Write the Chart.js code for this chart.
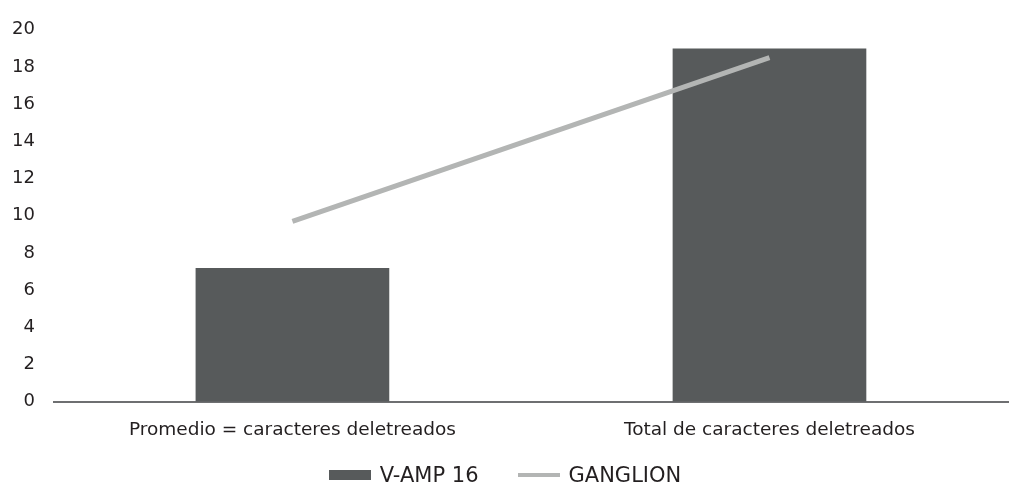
<!DOCTYPE html>
<html>
<head>
<meta charset="utf-8">
<script src="https://cdn.jsdelivr.net/npm/chart.js@4/dist/chart.umd.min.js"></script>
<style>
  html, body { margin: 0; padding: 0; background: #ffffff; }
  #wrap { width: 1010px; height: 488px; position: relative; }
  #legend {
    position: absolute; left: 0; right: 0; top: 463px; height: 24px;
    display: flex; justify-content: center; align-items: center; gap: 39px;
    font: 21px "DejaVu Sans", sans-serif; color: #231f20;
  }
  #legend .item { display: flex; align-items: center; }
  #legend .swatch { width: 42px; margin-right: 9px; }
</style>
</head>
<body>
<div id="wrap"><canvas id="chart"></canvas><div id="legend"></div></div>
<script>
// Data
const categories = ['Promedio = caracteres deletreados', 'Total de caracteres deletreados'];
const vampValues = [7.2, 19];
const ganglionValues = [9.7, 18.5];
const seriesNames = ['V-AMP 16', 'GANGLION'];

const barColor = '#575a5b';
const lineColor = '#b3b5b4';
const textColor = '#231f20';
const fontFamily = '"DejaVu Sans", sans-serif';

Chart.defaults.font.family = fontFamily;
Chart.defaults.color = textColor;

const ctx = document.getElementById('chart').getContext('2d');
const chart = new Chart(ctx, {
    data: {
        labels: categories,
        datasets: [
            {
                type: 'line',
                label: seriesNames[1],
                data: ganglionValues,
                borderColor: lineColor,
                backgroundColor: lineColor,
                borderWidth: 5,
                pointRadius: 0,
                tension: 0,
                order: 0
            },
            {
                type: 'bar',
                label: seriesNames[0],
                data: vampValues,
                backgroundColor: barColor,
                borderWidth: 0,
                categoryPercentage: 1,
                barPercentage: 0.406,
                order: 1
            }
        ]
    },
    options: {
        responsive: true,
        maintainAspectRatio: false,
        animation: false,
        layout: { padding: { left: -7, right: 2, top: 1, bottom: 30 } },
        scales: {
            x: {
                offset: true,
                grid: { display: false, drawTicks: false },
                border: { display: true, color: '#6e6f71', width: 2 },
                ticks: { font: { size: 18.5 }, color: textColor, padding: 17 }
            },
            y: {
                min: 0,
                max: 20,
                grid: { display: false, drawTicks: false },
                border: { display: false },
                ticks: { stepSize: 2, font: { size: 18 }, color: textColor, padding: 19 }
            }
        },
        plugins: {
            tooltip: { enabled: false },
            legend: { display: false }
        }
    }
});

// Legend below the canvas: bar swatch first, then the line
function buildLegend() {
    const legend = document.getElementById('legend');
    const order = [1, 0];
    order.forEach(i => {
        const ds = chart.data.datasets[i];
        const item = document.createElement('div');
        item.className = 'item';
        const swatch = document.createElement('span');
        swatch.className = 'swatch';
        swatch.style.height = ds.type === 'bar' ? '10px' : '4px';
        swatch.style.background = ds.type === 'bar' ? ds.backgroundColor : ds.borderColor;
        const text = document.createElement('span');
        text.textContent = ds.label;
        item.appendChild(swatch);
        item.appendChild(text);
        legend.appendChild(item);
    });
}
buildLegend();
</script>
</body>
</html>
